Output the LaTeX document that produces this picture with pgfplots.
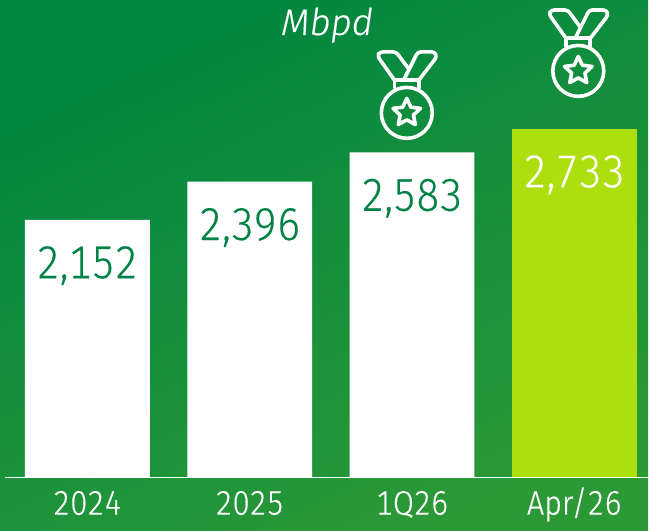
\documentclass[border=0pt]{standalone}
\usepackage{fontspec}
\setmainfont{Fira Sans}[UprightFont=* Light, ItalicFont=* Light Italic, Numbers=Monospaced, FakeBold=0.3, FakeStretch=0.9]
\newfontfamily\mbfont{Fira Sans}[UprightFont=* Light, ItalicFont=* Light Italic, FakeBold=0.3]
\usepackage{pgfplots}
\pgfplotsset{compat=1.18}
\definecolor{bgA}{RGB}{0,134,64}
\definecolor{bgB}{RGB}{44,153,55}
\definecolor{lime}{RGB}{173,223,15}
\definecolor{numgreen}{RGB}{0,130,70}
\newcommand{\medal}[2]{%
\begin{scope}[shift={(#1pt,#2pt)},x=1pt,y=1pt,draw=white,line width=3.6pt,line join=round,line cap=round]
\draw (0,0) circle (25.5);
\draw (90:14.5) -- (126:7) -- (162:14.5) -- (198:7) -- (234:14.5) -- (270:7) -- (306:14.5) -- (342:7) -- (18:14.5) -- (54:7) -- cycle;
\draw (-12.3,25) -- (-12.3,32.7) -- (12,32.7) -- (12,25);
\draw[rounded corners=3pt] (-12.3,32.7) -- (-29.5,57) -- (-27,61) -- (-10.7,61) -- (1.7,44.3);
\draw[rounded corners=3pt] (-3,33) -- (11,61) -- (28,61) -- (30,56) -- (12,32.7);
\end{scope}}
\begin{document}
\begin{tikzpicture}[x=1pt,y=1pt]
\shade[top color=bgA,bottom color=bgB,shading angle=25] (0,0) rectangle (649,531);
\begin{axis}[
  at={(5pt,53pt)},anchor=south west,
  scale only axis,width=644pt,height=478pt,
  xmin=-0.5076,xmax=3.4555,ymin=505,ymax=3557,
  axis x line*=bottom,hide y axis,
  axis line style={white,line width=1.6pt,-},
  xtick={0,1,2,3},xticklabels={2024,2025,1Q26,Apr/26},
  xtick style={draw=none},
  x tick label style={white,font=\fontsize{34}{34}\selectfont,anchor=base,yshift=-33pt},
  ybar,bar width=125pt,bar shift=0pt,
  /pgf/number format/1000 sep={,},
  /pgf/number format/assume math mode=true,
  nodes near coords,
  nodes near coords style={anchor=base,yshift=-58.5pt,font=\fontsize{46}{46}\selectfont},
  clip=true,
]
\addplot[fill=white,draw=none,text=numgreen] coordinates {(0,2152) (1,2396) (2,2583)};
\addplot[fill=lime,draw=none,text=white] coordinates {(3,2733)};
\end{axis}
\node[white,anchor=base,font=\fontsize{37}{37}\selectfont\mbfont\itshape] at (327.5,531-35) {Mbpd};
\medal{407.3}{418}
\medal{579}{460}
\end{tikzpicture}
\end{document}
